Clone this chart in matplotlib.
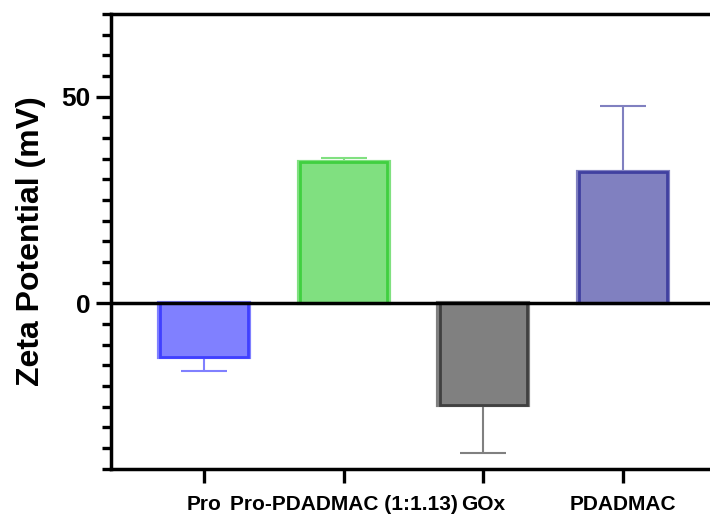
import matplotlib.pyplot as plt
from matplotlib.ticker import MultipleLocator
import numpy as np

plt.rcParams['font.family'] = ['Liberation Sans', 'DejaVu Sans']
plt.rcParams['font.weight'] = 'bold'

groups = ['Pro', 'Pro-PDADMAC (1:1.13)', 'GOx', 'PDADMAC']
means = [-13.0, 34.3, -24.6, 31.9]
errs = [3.3, 0.8, 11.7, 15.9]

faces = ['#8080ff', '#80e080', '#808080', '#8080c0']
edges = ['#4040ff', '#40d040', '#404040', '#4040a0']

x = np.arange(len(groups))

fig = plt.figure(figsize=(7.1, 5.16), dpi=100)
ax = fig.add_axes([0.1563, 0.0919, 0.8437, 0.8808])

for i in range(len(groups)):
    m = means[i]
    if m < 0:
        yerr = [[errs[i]], [0]]
    else:
        yerr = [[0], [errs[i]]]
    ax.errorbar(x[i], m, yerr=yerr, fmt='none', ecolor=faces[i],
                elinewidth=1.5, capsize=16.5, capthick=1.5, zorder=1)
    # light outer band, then darker inner outline
    ax.bar(x[i], m, width=0.645, color=faces[i], edgecolor=faces[i],
           linewidth=3.0, zorder=2)
    ax.bar(x[i], m, width=0.625, color=faces[i], edgecolor=edges[i],
           linewidth=2.0, zorder=2)

ax.axhline(0, color='black', lw=2.5, zorder=3)

ax.set_xlim(-0.666, 3.622)
ax.set_ylim(-40, 70)
ax.yaxis.set_major_locator(MultipleLocator(50))
ax.yaxis.set_minor_locator(MultipleLocator(5))
ax.set_xticks(x)
ax.set_xticklabels(groups, fontsize=15, fontweight='bold')
ax.tick_params(axis='y', which='major', length=11, width=2.4, labelsize=19, pad=4)
ax.tick_params(axis='y', which='minor', length=6.5, width=2.4)
ax.tick_params(axis='x', length=10, width=2.4, pad=9)

for s in ['left', 'top', 'bottom']:
    ax.spines[s].set_linewidth(2.5)
ax.spines['right'].set_visible(False)

ax.set_ylabel('Zeta Potential (mV)', fontsize=23, fontweight='bold', labelpad=11)

fig.savefig('out.png', dpi=100)
